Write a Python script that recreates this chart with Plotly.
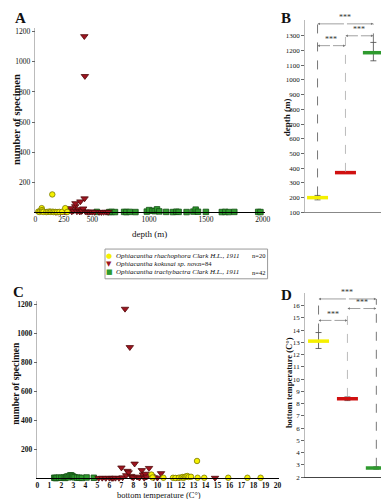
import plotly.graph_objects as go

W, H = 389, 499
def fx(p): return p / W
def fy(p): return 1 - p / H

SERIF = "Liberation Serif"

# ---------------- data ----------------
# Panel A: depth (m) vs number of specimens per station
rha_depth = [25, 35, 45, 55, 58, 60, 70, 95, 110, 125, 135, 148, 150, 160, 175, 190, 210, 235, 262, 280]
rha_count_a = [5, 3, 10, 28, 15, 5, 3, 2, 3, 5, 3, 119, 4, 2, 3, 2, 3, 4, 28, 3]

kok_depth = [180, 200, 220, 240, 255, 270, 285, 300, 310, 320, 335, 350, 352, 365, 380, 390, 395, 405,
             410, 420, 430, 432, 435, 440, 455, 470, 485, 500, 520, 560, 580, 600, 620, 640]
kok_count_a = [2, 3, 1, 4, 6, 3, 8, 15, 27, 5, 10, 40, 60, 6, 20, 4, 72, 8,
               10, 25, 1170, 92, 905, 5, 3, 2, 4, 3, 2, 2, 1, 2, 3, 2]

tra_depth = [540, 650, 670, 700, 780, 800, 830, 880, 980, 1000, 1030, 1050, 1070, 1090, 1150,
             1210, 1240, 1260, 1330, 1390, 1410, 1430, 1500, 1640, 1670, 1700, 1750, 1960, 1980]
tra_count_a = [3, 2, 3, 2, 3, 2, 3, 2, 5, 15, 10, 8, 20, 6, 3,
               2, 4, 3, 2, 5, 18, 4, 3, 2, 3, 2, 3, 3, 2]

# Panel C: bottom temperature (C) vs number of specimens per station
rha_temp = [9.5, 9.6, 10.5, 11.3, 11.5, 11.8, 12.0, 12.1, 12.2, 12.3, 12.4, 12.5, 12.6, 12.8,
            13.3, 13.35, 13.9, 15.9, 17.5, 18.6]
rha_count_c = [25, 5, 3, 3, 2, 4, 5, 8, 3, 10, 12, 15, 8, 10, 119, 3, 3, 3, 3, 3]

kok_temp = [5.1, 5.4, 5.7, 6.0, 6.2, 6.3, 6.5, 6.8, 7.0, 7.1, 7.3, 7.4, 7.5, 7.6, 7.7, 7.8, 7.9,
            8.0, 8.1, 8.3, 8.5, 8.7, 8.8, 8.9, 9.0, 9.1, 9.3, 9.5, 9.7, 10.0, 10.3, 11.6, 11.8, 14.8]
kok_count_c = [1, 2, 1, 2, 1, 1, 2, 1, 73, 5, 1170, 20, 50, 40, 905, 15, 8,
               5, 100, 10, 3, 55, 25, 2, 30, 10, 70, 15, 5, 3, 34, 3, 5, 2]

tra_temp = [1.4, 1.5, 1.6, 1.8, 2.0, 2.2, 2.3, 2.4, 2.5, 2.6, 2.7, 2.8, 2.9, 3.0, 3.1, 3.3, 3.5, 3.7, 4.1, 4.7]
tra_count_c = [3, 1, 2, 4, 3, 5, 2, 8, 12, 6, 18, 20, 15, 10, 6, 4, 3, 2, 5, 3]

# Panels B and D: mean +- error per species (order: rhachophora, kokusai, trachybactra)
species_pos = [1, 2, 3]
mean_depth = [200, 370, 1185]
depth_err_up = [15, 5, 70]
depth_err_dn = [15, 5, 55]
mean_temp = [13.1, 8.4, 2.75]
temp_err_up = [0.7, 0.15, 0.1]
temp_err_dn = [0.6, 0.15, 0.1]

species_names = ["Ophiacantha rhachophora Clark H.L., 1911",
                 "Ophiacantha kokusai sp. nov.",
                 "Ophiacantha trachybactra Clark H.L., 1911"]
species_n = ["n=20", "n=84", "n=42"]

# ---------------- styles ----------------
YEL = "#F5F000"; YEL_L = "#7A7A00"
RED = "#9E1420"; RED_L = "#4F0A0A"
GRN = "#2E9A2E"; GRN_L = "#145214"

fig = go.Figure()

def scat(x, y, xa, ya, sym, col, lc, size):
    fig.add_trace(go.Scatter(x=x, y=y, mode="markers", xaxis=xa, yaxis=ya, cliponaxis=False,
                             marker=dict(symbol=sym, color=col, size=size,
                                         line=dict(color=lc, width=0.8)),
                             showlegend=False, hoverinfo="x+y"))

# Panel A
scat(tra_depth, tra_count_a, "x", "y", "square", GRN, GRN_L, 5.5)
scat(kok_depth, kok_count_a, "x", "y", "triangle-down", RED, RED_L, 6.5)
scat(rha_depth, rha_count_a, "x", "y", "circle", YEL, YEL_L, 5.5)
# Panel C
scat(tra_temp, tra_count_c, "x3", "y3", "square", GRN, GRN_L, 5.5)
scat(kok_temp, kok_count_c, "x3", "y3", "triangle-down", RED, RED_L, 6.5)
scat(rha_temp, rha_count_c, "x3", "y3", "circle", YEL, YEL_L, 5.5)

# Panels B, D: mean bars with error bars
cols = [YEL, "#D01010", GRN]
for xa, ya, means, eu, ed in [("x2", "y2", mean_depth, depth_err_up, depth_err_dn),
                              ("x4", "y4", mean_temp, temp_err_up, temp_err_dn)]:
    for i in range(3):
        fig.add_trace(go.Scatter(
            x=[species_pos[i]], y=[means[i]], mode="markers", xaxis=xa, yaxis=ya, cliponaxis=False,
            marker=dict(symbol="line-ew", size=15, line=dict(color=cols[i], width=3.5)),
            error_y=dict(type="data", symmetric=False, array=[eu[i]], arrayminus=[ed[i]],
                         color="#444", thickness=0.8, width=3),
            showlegend=False))

tickf = dict(family=SERIF, size=7.5, color="#111")
common = dict(showgrid=False, zeroline=False)

fig.update_layout(
    width=W, height=H, margin=dict(l=0, r=0, t=0, b=0),
    paper_bgcolor="white", plot_bgcolor="white", showlegend=False,
    xaxis=dict(domain=[fx(26), fx(260)], range=[0, 2017], anchor="y",
               tickvals=[0, 250, 500, 1000, 1500, 2000], ticks="", tickfont=tickf,
               showline=True, linecolor="black", linewidth=1, **common),
    yaxis=dict(domain=[fy(206), fy(20)], range=[0, 1226], anchor="x",
               tickvals=[200, 400, 600, 800, 1000, 1200], ticks="outside", ticklen=3,
               tickcolor="#666", tickfont=tickf, showline=True, linecolor="#bbb", linewidth=0.5, **common),
    xaxis2=dict(domain=[fx(301), fx(387)], range=[0.544, 3.561], anchor="y2",
                showticklabels=False, ticks="", showline=True, linecolor="#888", linewidth=1, **common),
    yaxis2=dict(domain=[fy(206), fy(12)], range=[100, 1408], anchor="x2",
                tickvals=list(range(100, 1301, 100)), ticks="outside", ticklen=3, tickcolor="#666",
                tickfont=dict(family=SERIF, size=7, color="#111"),
                showline=True, linecolor="#bbb", linewidth=0.5, **common),
    xaxis3=dict(domain=[fx(28), fx(275)], range=[0, 20.16], anchor="y3",
                tickvals=list(range(0, 21)), ticks="", tickfont=dict(family=SERIF, size=7.5, color="#111", weight="bold"),
                showline=True, linecolor="black", linewidth=1, **common),
    yaxis3=dict(domain=[fy(474), fy(295)], range=[0, 1227], anchor="x3",
                tickvals=[200, 400, 600, 800, 1000, 1200], ticks="outside", ticklen=3, tickcolor="#666",
                tickfont=dict(family=SERIF, size=7.5, color="#111", weight="bold"),
                showline=True, linecolor="#bbb", linewidth=0.5, **common),
    xaxis4=dict(domain=[fx(301), fx(387)], range=[0.525, 3.44], anchor="y4",
                showticklabels=False, ticks="", showline=True, linecolor="#444", linewidth=1, **common),
    yaxis4=dict(domain=[fy(473), fy(287)], range=[2, 17.05], anchor="x4",
                tickvals=list(range(2, 17)), ticks="outside", ticklen=3, tickcolor="#666",
                tickfont=dict(family=SERIF, size=7, color="#111"),
                showline=True, linecolor="#bbb", linewidth=0.5, **common),
)

shapes = []
anns = []

def vdash(xr, yr, x, y0, y1, col):
    shapes.append(dict(type="line", xref=xr, yref=yr, x0=x, x1=x, y0=y0, y1=y1,
                       line=dict(color=col, width=0.8, dash="dash")))

def bracket(xr, yr, xa, xb, y, txt_shift=6):
    mid = (xa + xb) / 2
    for end in (xa, xb):
        anns.append(dict(xref=xr, yref=yr, axref=xr, ayref=yr, x=end, y=y, ax=mid, ay=y,
                         text="", showarrow=True, arrowhead=2, arrowsize=0.7, arrowwidth=0.7,
                         arrowcolor="#777"))
    anns.append(dict(xref=xr, yref=yr, x=mid, y=y, text="***", showarrow=False, yshift=txt_shift,
                     font=dict(family=SERIF, size=8, color="#333")))

# Panel B significance
vdash("x2", "y2", 1, 215, 1381, "#555")
vdash("x2", "y2", 2, 375, 1300, "#aaa")
vdash("x2", "y2", 3, 1255, 1381, "#555")
bracket("x2", "y2", 1, 3, 1381)
bracket("x2", "y2", 2, 3, 1300)
bracket("x2", "y2", 1, 2, 1233)

# Panel D significance
vdash("x4", "y4", 1, 13.8, 16.54, "#555")
vdash("x4", "y4", 2, 8.55, 15.76, "#aaa")
vdash("x4", "y4", 3, 2.85, 16.54, "#555")
bracket("x4", "y4", 1, 3, 16.54)
bracket("x4", "y4", 2, 3, 15.76)
bracket("x4", "y4", 1, 2, 14.79)

# Panel letters
for lab, px, py in [("A", 3, 0), ("B", 275, 0), ("C", 1, 276), ("D", 275, 279)]:
    anns.append(dict(xref="paper", yref="paper", x=fx(px), y=fy(py), xanchor="left", yanchor="top",
                     text="<b>%s</b>" % lab, showarrow=False,
                     font=dict(family=SERIF, size=15, color="#111")))

# Axis titles
def title(txt, px, py, size, angle=0, bold=True):
    t = "<b>%s</b>" % txt if bold else txt
    anns.append(dict(xref="paper", yref="paper", x=fx(px), y=fy(py), xanchor="center", yanchor="middle",
                     text=t, showarrow=False, textangle=angle,
                     font=dict(family=SERIF, size=size, color="#111")))

title("number of specimen", 6, 112, 10.5, -90)
title("depth (m)", 142, 228, 9, 0, bold=False)
title("depth (m)", 283, 110, 9, -90)
title("number of specimen", 6, 378, 9.5, -90)
title("bottom temperature (C°)", 152, 491, 8.5, 0, bold=False)
title("bottom temperature (C°)", 285, 378, 8.5, -90)

# Legend box (manual)
shapes.append(dict(type="rect", xref="paper", yref="paper", x0=fx(97), x1=fx(263), y0=fy(273), y1=fy(243),
                   line=dict(color="#999", width=1), fillcolor="white"))
syms = [("●", YEL), ("▼", RED), ("■", GRN)]
n_x = [245, 190, 245]
for i, ypx in enumerate([249.5, 258, 266.5]):
    anns.append(dict(xref="paper", yref="paper", x=fx(101.5), y=fy(ypx), xanchor="center", yanchor="middle",
                     text=syms[i][0], showarrow=False, font=dict(family="DejaVu Sans", size=7, color=syms[i][1])))
    anns.append(dict(xref="paper", yref="paper", x=fx(106), y=fy(ypx), xanchor="left", yanchor="middle",
                     text="<i>%s</i>" % species_names[i], showarrow=False,
                     font=dict(family=SERIF, size=7, color="#111")))
    anns.append(dict(xref="paper", yref="paper", x=fx(n_x[i]), y=fy(ypx), xanchor="left", yanchor="middle",
                     text=species_n[i], showarrow=False, font=dict(family=SERIF, size=6.5, color="#111")))

fig.update_layout(shapes=shapes, annotations=anns)
fig.write_html("out.html")
